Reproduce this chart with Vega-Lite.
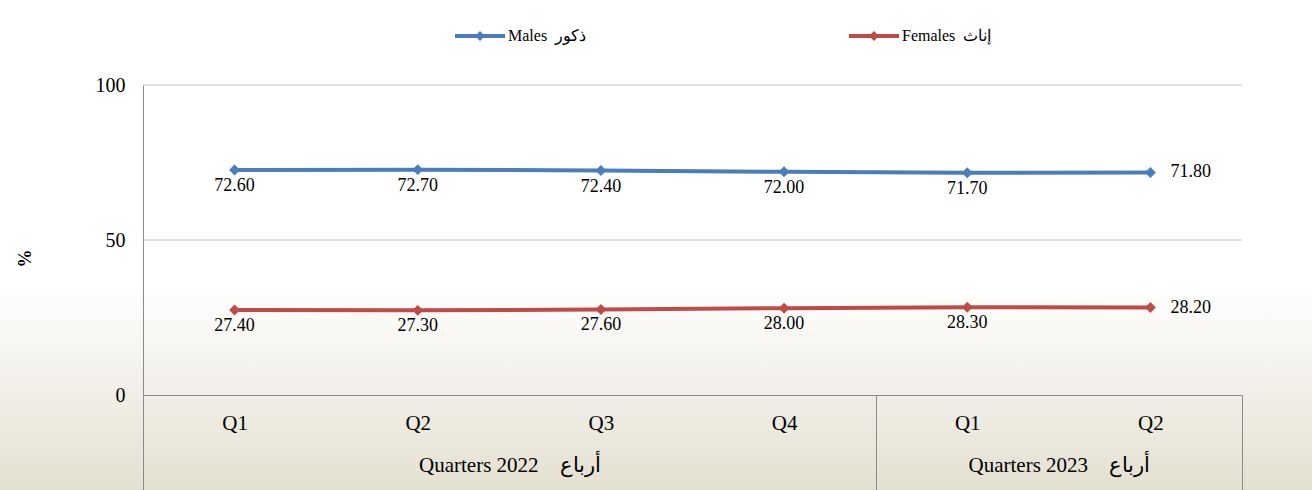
{
  "$schema": "https://vega.github.io/schema/vega-lite/v6.json",
  "width": 1312,
  "height": 490,
  "autosize": {"type": "none"},
  "padding": 0,
  "background": "#ffffff",
  "view": {
    "fill": {"gradient": "linear", "x1": 0, "y1": 0, "x2": 0, "y2": 1,
      "stops": [{"offset": 0, "color": "#ffffff"}, {"offset": 0.58, "color": "#ffffff"}, {"offset": 1, "color": "#e4e0d1"}]},
    "stroke": null
  },
  "config": {"font": "Liberation Serif", "text": {"font": "Liberation Serif"}},
  "layer": [
    {
      "data": {"values": [{"tick": 50}, {"tick": 100}]},
      "mark": {"type": "rule", "color": "#c4c4c4", "strokeWidth": 1},
      "encoding": {
        "x": {
          "datum": 0, "type": "quantitative",
          "scale": {"domain": [0, 6], "range": [143, 1242], "nice": false, "zero": false},
          "axis": {
            "orient": "bottom", "offset": -95, "values": [0, 2, 4, 5, 6],
            "domain": false, "grid": false, "tickSize": 95, "tickColor": "#8a8a8a", "tickWidth": 1,
            "tickOpacity": {"condition": {"test": "datum.value == 2 || datum.value == 5", "value": 0}, "value": 1},
            "labelExpr": "datum.value == 2 ? 'Quarters 2022\u00a0\u00a0\u00a0\u00a0أرباع' : datum.value == 5 ? 'Quarters 2023\u00a0\u00a0\u00a0\u00a0أرباع' : ''",
            "labelPadding": -36, "labelFontSize": 21, "labelFont": "Liberation Serif", "labelColor": "#000000",
            "labelLimit": 0, "labelAngle": 0, "labelFlush": false, "labelOverlap": false, "title": null
          }
        },
        "x2": {"datum": 6},
        "y": {"field": "tick", "type": "quantitative"}
      }
    },
    {
      "data": {"values": [
        {"period": "2022 Q1", "sex": "Males\u00a0\u00a0ذكور", "value": 72.6},
        {"period": "2022 Q2", "sex": "Males\u00a0\u00a0ذكور", "value": 72.7},
        {"period": "2022 Q3", "sex": "Males\u00a0\u00a0ذكور", "value": 72.4},
        {"period": "2022 Q4", "sex": "Males\u00a0\u00a0ذكور", "value": 72.0},
        {"period": "2023 Q1", "sex": "Males\u00a0\u00a0ذكور", "value": 71.7},
        {"period": "2023 Q2", "sex": "Males\u00a0\u00a0ذكور", "value": 71.8},
        {"period": "2022 Q1", "sex": "Females\u00a0\u00a0إناث", "value": 27.4},
        {"period": "2022 Q2", "sex": "Females\u00a0\u00a0إناث", "value": 27.3},
        {"period": "2022 Q3", "sex": "Females\u00a0\u00a0إناث", "value": 27.6},
        {"period": "2022 Q4", "sex": "Females\u00a0\u00a0إناث", "value": 28.0},
        {"period": "2023 Q1", "sex": "Females\u00a0\u00a0إناث", "value": 28.3},
        {"period": "2023 Q2", "sex": "Females\u00a0\u00a0إناث", "value": 28.2}
      ]},
      "encoding": {
        "x": {
          "field": "period", "type": "ordinal",
          "scale": {"type": "point", "domain": ["2022 Q1", "2022 Q2", "2022 Q3", "2022 Q4", "2023 Q1", "2023 Q2"], "range": [143, 1242], "padding": 0.5},
          "axis": {
            "orient": "bottom", "offset": -95, "labelExpr": "split(datum.label, ' ')[1]",
            "ticks": false, "domain": true, "domainColor": "#8a8a8a", "domainWidth": 1, "grid": false,
            "labelAngle": 0, "labelPadding": 17, "labelFontSize": 21, "labelFont": "Liberation Serif", "labelColor": "#000000", "title": null
          }
        },
        "y": {
          "field": "value", "type": "quantitative",
          "scale": {"domain": [0, 100], "range": [395, 85], "nice": false},
          "axis": {
            "orient": "left", "offset": -143, "values": [0, 50, 100], "ticks": false, "grid": false,
            "domainColor": "#8a8a8a", "domainWidth": 1,
            "labelFontSize": 20, "labelFont": "Liberation Serif", "labelColor": "#000000", "labelPadding": 18,
            "title": "%", "titleFont": "Liberation Serif", "titleFontSize": 18, "titleFontWeight": "bold", "titleColor": "#000000",
            "titleX": -118, "titleY": 258, "titleAngle": -90, "titleAlign": "center", "titleBaseline": "middle"
          }
        }
      },
      "layer": [
        {
          "mark": {"type": "point", "shape": "diamond", "filled": true, "size": 120, "opacity": 1},
          "encoding": {
            "color": {
              "field": "sex", "type": "nominal",
              "scale": {"domain": ["Males\u00a0\u00a0ذكور", "Females\u00a0\u00a0إناث"], "range": ["#4a7ebb", "#be4b48"]},
              "legend": {
                "orient": "none", "legendX": 455, "legendY": 11, "direction": "horizontal", "title": null,
                "symbolType": "M-1,-0.08L-0.12,-0.08L0,-0.2L0.12,-0.08L1,-0.08L1,0.08L0.12,0.08L0,0.2L-0.12,0.08L-1,0.08Z",
                "symbolSize": 2500, "symbolStrokeWidth": 0, "symbolOpacity": 1,
                "labelFontSize": 16, "labelFont": "Liberation Serif", "labelColor": "#000000",
                "columnPadding": 262, "labelOffset": 3, "padding": 0
              }
            }
          }
        },
        {
          "mark": {"type": "line", "strokeWidth": 4},
          "encoding": {"color": {"field": "sex", "type": "nominal"}}
        },
        {
          "transform": [{"filter": "datum.period != '2023 Q2'"}],
          "mark": {"type": "text", "dy": 16, "fontSize": 18, "fill": "#000000", "baseline": "middle", "align": "center"},
          "encoding": {"text": {"field": "value", "type": "quantitative", "format": ".2f"}}
        },
        {
          "transform": [{"filter": "datum.period == '2023 Q2'"}],
          "mark": {"type": "text", "dx": 20, "fontSize": 18, "fill": "#000000", "baseline": "middle", "align": "left"},
          "encoding": {"text": {"field": "value", "type": "quantitative", "format": ".2f"}}
        }
      ]
    }
  ],
  "resolve": {"scale": {"x": "independent"}, "axis": {"x": "independent"}}
}
